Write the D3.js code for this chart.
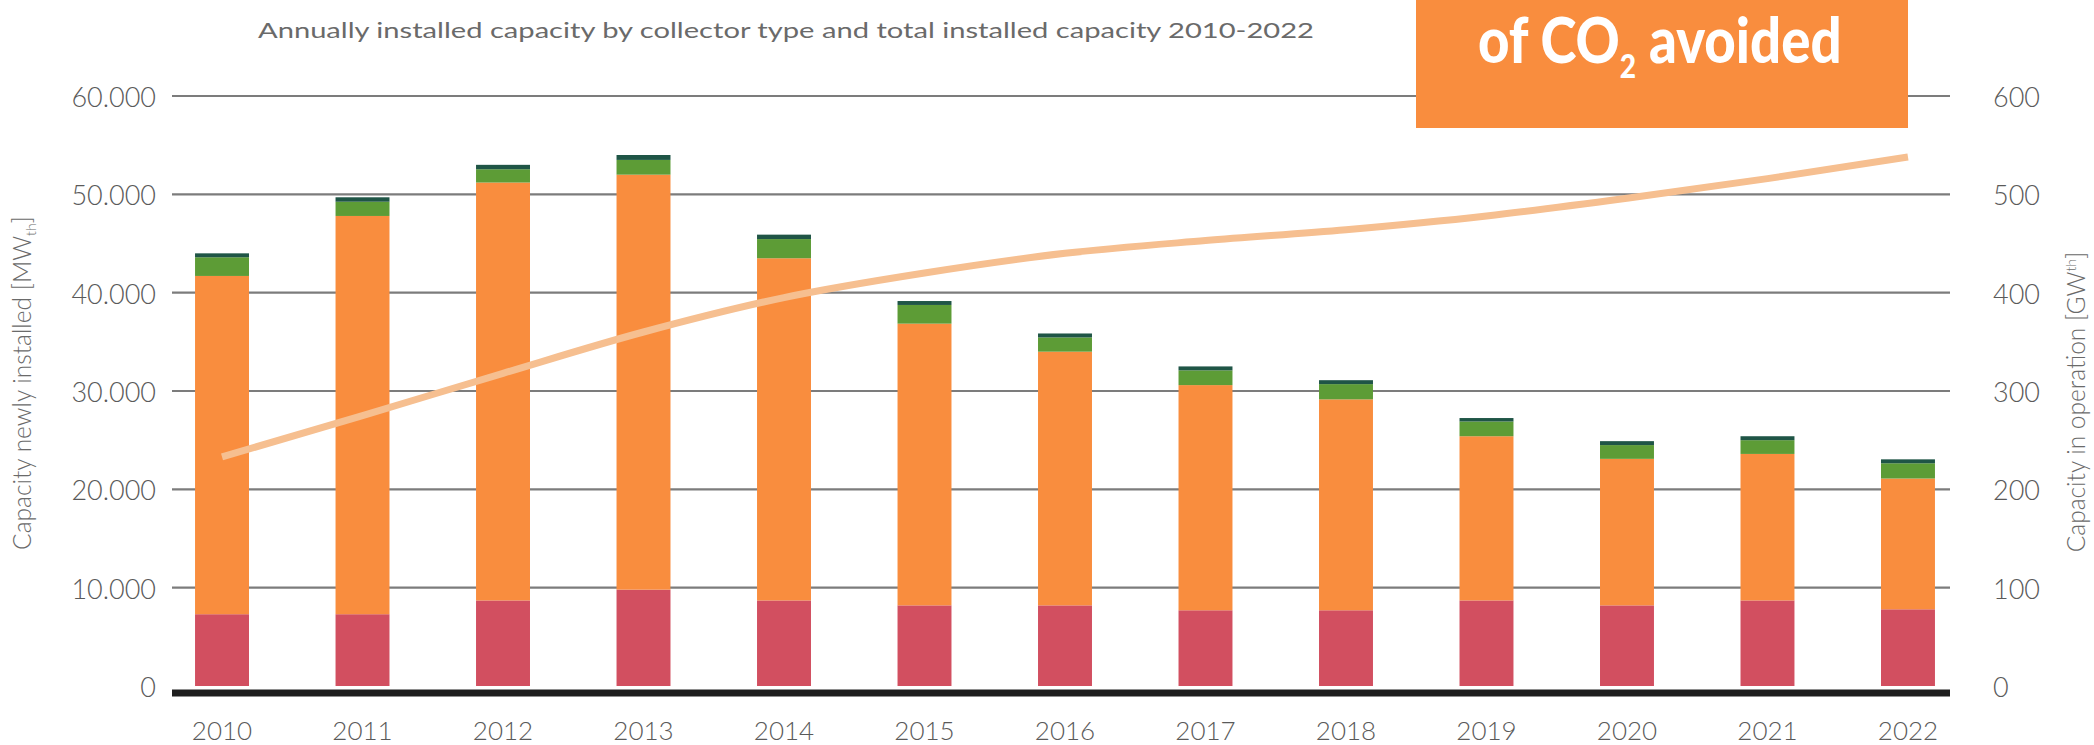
<!DOCTYPE html>
<html>
<head>
<meta charset="utf-8">
<script src="https://cdn.jsdelivr.net/npm/d3@7/dist/d3.min.js"></script>
<style>
  html, body { margin: 0; padding: 0; background: #ffffff; }
  svg { display: block; }
  text { font-family: "Lato", "Open Sans", sans-serif; }
</style>
</head>
<body>
<svg id="chart" width="2094" height="745"></svg>
<script>
// Annual solar thermal installations by collector type (MW_th) and capacity in operation (GW_th)
const years = ["2010", "2011", "2012", "2013", "2014", "2015", "2016",
               "2017", "2018", "2019", "2020", "2021", "2022"];
const flatPlate     = [7300, 7300, 8700, 9800, 8700, 8200, 8200, 7700, 7700, 8700, 8200, 8700, 7800];
const evacuatedTube = [34400, 40500, 42500, 42200, 34800, 28650, 25800, 22900, 21450, 16700, 14900, 14900, 13300];
const unglazed      = [1900, 1450, 1350, 1500, 1950, 1900, 1450, 1500, 1550, 1500, 1400, 1400, 1550];
const airCollectors = [400, 450, 450, 500, 450, 400, 400, 400, 400, 350, 400, 400, 400];
const inOperation   = [233, 275, 318, 360, 395, 420, 440, 453, 464, 478, 496, 516, 538];

const leftTicks       = [0, 10000, 20000, 30000, 40000, 50000, 60000];
const leftTickLabels  = ["0", "10.000", "20.000", "30.000", "40.000", "50.000", "60.000"];
const rightTicks      = [0, 100, 200, 300, 400, 500, 600];
const rightTickLabels = ["0", "100", "200", "300", "400", "500", "600"];

const seriesKeys   = ["flatPlate", "evacuatedTube", "unglazed", "airCollectors"];
const seriesColors = ["#d24f60", "#f98d3e", "#5d9c36", "#1f5546"];

const rows = years.map((yr, i) => ({
  year: yr,
  flatPlate: flatPlate[i],
  evacuatedTube: evacuatedTube[i],
  unglazed: unglazed[i],
  airCollectors: airCollectors[i],
  total: inOperation[i]
}));

const svg = d3.select("#chart");

const plotLeft = 172, plotRight = 1950;
const x = d3.scaleBand().domain(years).range([172, 1958])
  .paddingInner(0.616).paddingOuter(0.164);
const y = d3.scaleLinear().domain([0, 60000]).range([686, 96]);
const yR = d3.scaleLinear().domain([0, 600]).range([686, 96]);

// horizontal grid
svg.append("g").selectAll("line")
  .data(leftTicks.filter(d => d > 0))
  .join("line")
  .attr("x1", plotLeft).attr("x2", plotRight)
  .attr("y1", d => y(d)).attr("y2", d => y(d))
  .attr("stroke", "#7c7c7c").attr("stroke-width", 2.2);

// stacked bars
const stacked = d3.stack().keys(seriesKeys)(rows);
svg.append("g").selectAll("g")
  .data(stacked)
  .join("g")
  .attr("fill", (d, i) => seriesColors[i])
  .selectAll("rect")
  .data(d => d)
  .join("rect")
  .attr("x", d => x(d.data.year))
  .attr("width", x.bandwidth())
  .attr("y", d => y(d[1]))
  .attr("height", d => y(d[0]) - y(d[1]));

// baseline
svg.append("line")
  .attr("x1", plotLeft).attr("x2", plotRight)
  .attr("y1", y(0) + 7).attr("y2", y(0) + 7)
  .attr("stroke", "#1e1e1e").attr("stroke-width", 7);

// capacity in operation line
const line = d3.line()
  .x(d => x(d.year) + x.bandwidth() / 2)
  .y(d => yR(d.total))
  .curve(d3.curveMonotoneX);
svg.append("path")
  .datum(rows)
  .attr("d", line)
  .attr("fill", "none")
  .attr("stroke", "#f6bf90")
  .attr("stroke-width", 7)
  .attr("stroke-linecap", "butt");

// axes
const labelColor = "#5a5a5a";
const leftAxis = svg.append("g")
  .attr("transform", `translate(${plotLeft},2)`)
  .call(d3.axisLeft(y).tickValues(leftTicks).tickSize(0).tickPadding(16)
    .tickFormat((d, i) => leftTickLabels[i]));
const rightAxis = svg.append("g")
  .attr("transform", `translate(1950,2)`)
  .call(d3.axisRight(yR).tickValues(rightTicks).tickSize(0).tickPadding(43)
    .tickFormat((d, i) => rightTickLabels[i]));
const bottomAxis = svg.append("g")
  .attr("transform", `translate(0,${y(0)})`)
  .call(d3.axisBottom(x).tickSize(0).tickPadding(36));

[leftAxis, rightAxis, bottomAxis].forEach(g => {
  g.select(".domain").remove();
  g.selectAll("text")
    .attr("fill", labelColor)
    .attr("font-size", 27)
    .attr("font-weight", 300)
    .attr("font-family", "Lato, 'Open Sans', sans-serif");
});
bottomAxis.selectAll("text").attr("font-size", 26);

// title
svg.append("text")
  .attr("x", 786).attr("y", 38)
  .attr("text-anchor", "middle")
  .attr("font-size", 21)
  .attr("fill", "#6a6a6a")
  .attr("textLength", 1056)
  .attr("lengthAdjust", "spacingAndGlyphs")
  .text("Annually installed capacity by collector type and total installed capacity 2010-2022");

// axis titles
const leftTitle = svg.append("text")
  .attr("transform", "translate(31,383) rotate(-90)")
  .attr("text-anchor", "middle")
  .attr("font-size", 24.5)
  .attr("font-weight", 300)
  .attr("fill", "#6a6a6a");
leftTitle.append("tspan").text("Capacity newly installed [MW");
leftTitle.append("tspan").attr("font-size", 14).attr("dy", 5).text("th");
leftTitle.append("tspan").attr("dy", -5).text("]");

const rightTitle = svg.append("text")
  .attr("transform", "translate(2085,402) rotate(-90)")
  .attr("text-anchor", "middle")
  .attr("font-size", 24.5)
  .attr("font-weight", 300)
  .attr("fill", "#6a6a6a");
rightTitle.append("tspan").text("Capacity in operation [GW");
rightTitle.append("tspan").attr("font-size", 14).attr("dy", -9).text("th");
rightTitle.append("tspan").attr("dy", 9).text("]");

// callout box
svg.append("rect")
  .attr("x", 1416).attr("y", 0)
  .attr("width", 492).attr("height", 128)
  .attr("fill", "#f98d3e");
const callout = svg.append("text")
  .attr("transform", "translate(1478,63) scale(0.88,1)")
  .attr("font-family", "Lato, sans-serif")
  .attr("font-weight", 900)
  .attr("font-size", 62)
  .attr("fill", "#ffffff");
callout.append("tspan").text("of CO");
callout.append("tspan").attr("font-size", 32).attr("dy", 15).text("2");
callout.append("tspan").attr("dy", -15).text(" avoided");
</script>
</body>
</html>
